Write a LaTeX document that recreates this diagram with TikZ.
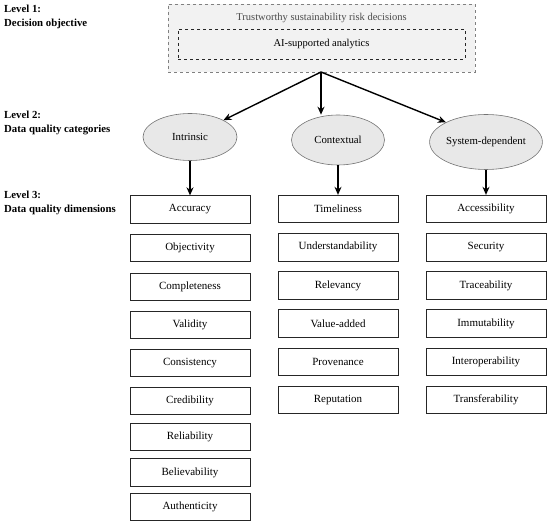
\documentclass[tikz,border=0pt]{standalone}
\usepackage{fontspec}
\setmainfont{Liberation Serif}
\usetikzlibrary{shapes.geometric,arrows.meta}
\begin{document}
\begin{tikzpicture}[x=1pt,y=-1pt,
  lvl/.style={anchor=north west,align=left,font=\bfseries\fontsize{10.8}{14}\selectfont,inner sep=0pt},
  cat/.style={ellipse,draw=black!55,fill=black!9,line width=0.6pt,inner sep=0pt,font=\fontsize{10.8}{12}\selectfont},
  dim/.style={draw=black!85,fill=white,line width=0.8pt,minimum width=120pt,minimum height=27.5pt,inner sep=0pt,font=\fontsize{11}{12}\selectfont},
  arr/.style={-{Stealth[length=8pt,width=7pt]},line width=1.4pt}
]
\useasboundingbox (0,0) rectangle (550,526);
% Level labels
\node[lvl] (l1) at (4,5) {Level 1:\\Decision objective};
\node[lvl] (l2) at (4,111) {Level 2:\\Data quality categories};
\node[lvl] (l3) at (4,191) {Level 3:\\Data quality dimensions};
% Level 1 box
\node[draw=black!50,dashed,fill=black!5,line width=0.6pt,minimum width=307pt,minimum height=68pt,inner sep=0pt] (obj) at (321.5,38) {};
\node[text=black!70,font=\fontsize{10.5}{12}\selectfont] (objt) at (321.5,18) {Trustworthy sustainability risk decisions};
\node[draw=black!85,dashed,line width=0.8pt,minimum width=287pt,minimum height=30pt,inner sep=0pt,font=\fontsize{10.5}{12}\selectfont] (ai) at (321.5,44) {AI-supported analytics};
% Categories
\node[cat,minimum width=94pt,minimum height=47pt] (intr) at (190,137) {Intrinsic};
\node[cat,minimum width=93pt,minimum height=50pt] (ctx) at (338,140) {Contextual};
\node[cat,minimum width=112pt,minimum height=55pt] (sys) at (486,142) {System-dependent};
\coordinate (src) at (321,72);
\draw[arr] (src) -- (intr.north east);
\draw[arr] (src) -- (ctx.north -| src);
\draw[arr] (src) -- (sys.north west);
% Dimensions
\foreach \t/\y [count=\i] in {Accuracy/209.5,Objectivity/248,Completeness/287,Validity/325,Consistency/363,Credibility/401,Reliability/437,Believability/472.5,Authenticity/507}
  \node[dim] (a\i) at (190,\y) {\t};
\foreach \t [count=\i] in {Timeliness,Understandability,Relevancy,Value-added,Provenance,Reputation}
  \node[dim] (b\i) at (338,{209+38.2*(\i-1)}) {\t};
\foreach \t [count=\i] in {Accessibility,Security,Traceability,Immutability,Interoperability,Transferability}
  \node[dim] (c\i) at (486,{209+38.2*(\i-1)}) {\t};
\draw[arr] (intr.south) -- (a1.north);
\draw[arr] (ctx.south -| b1.north) -- (b1.north);
\draw[arr] (sys.south -| c1.north) -- (c1.north);
\end{tikzpicture}
\end{document}
